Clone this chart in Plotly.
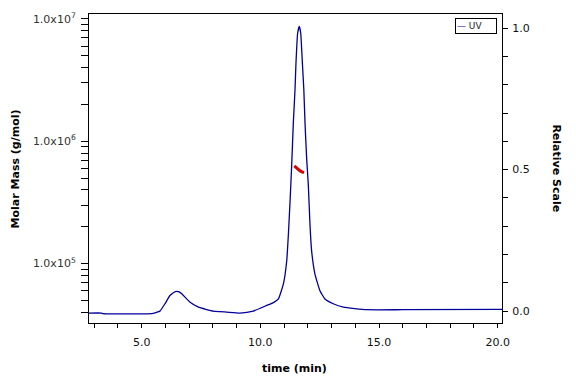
import plotly.graph_objects as go

# UV trace (relative scale, right axis)
time_uv = [2.78, 3.31, 3.37, 5.42, 5.6, 5.77, 5.98, 6.19, 6.35, 6.47, 6.58, 6.69, 7.04, 7.39,
           8.02, 8.58, 9.14, 9.70, 10.27, 10.55, 10.76, 10.97, 11.11, 11.18, 11.25, 11.32,
           11.39, 11.46, 11.50, 11.57, 11.64, 11.70, 11.77, 11.83, 11.88, 11.95, 12.02,
           12.09, 12.16, 12.30, 12.51, 12.72, 13.07, 13.5, 14.48, 16.0, 20.18]
uv = [-0.007, -0.007, -0.009, -0.009, -0.005, 0.0, 0.026, 0.055, 0.066, 0.070, 0.068, 0.061,
      0.031, 0.014, 0.0, -0.0035, -0.007, 0.0, 0.02, 0.03, 0.043, 0.096, 0.177, 0.271, 0.387,
      0.517, 0.667, 0.784, 0.877, 0.982, 1.006, 0.982, 0.877, 0.784, 0.667, 0.539, 0.446,
      0.306, 0.212, 0.131, 0.072, 0.043, 0.026, 0.014, 0.005, 0.005, 0.006]

# Molar mass (left log axis)
time_mm = [11.43, 11.50, 11.58, 11.66, 11.75, 11.84]
molar_mass = [6.28e5, 6.1e5, 5.9e5, 5.75e5, 5.62e5, 5.54e5]

x_ticks = [5, 10, 15, 20]
x_labels = ["5.0", "10.0", "15.0", "20.0"]
mm_decades = [5, 6, 7]
rs_labels = {0: "0.0", 5: "0.5", 10: "1.0"}

navy = "#000099"
font_fam = "DejaVu Sans"

fig = go.Figure()
fig.add_trace(go.Scatter(x=time_uv, y=uv, mode="lines", yaxis="y2", name="UV",
                         line=dict(color=navy, width=1.3, shape="spline", smoothing=0.4),
                         showlegend=False))
fig.add_trace(go.Scatter(x=time_mm, y=molar_mass, mode="lines", yaxis="y", name="Molar Mass",
                         line=dict(color="#dd0000", width=3), showlegend=False))

# log axis ticks
lv, lt = [], []
for e in range(4, 8):
    for m in range(1, 10):
        lv.append(m * 10 ** e)
        lt.append(f"1.0x10<sup>{e}</sup>" if (m == 1 and e in mm_decades) else "")

rv = [i / 10 for i in range(0, 11)]
rt = [rs_labels.get(i, "") for i in range(0, 11)]

fig.update_layout(
    width=576, height=384,
    margin=dict(l=89, r=74, t=11, b=61),
    paper_bgcolor="white", plot_bgcolor="white",
    font=dict(family=font_fam, size=11, color="#111"),
    xaxis=dict(range=[2.78, 20.18], tickmode="array", tickvals=x_ticks, ticktext=x_labels,
               ticks="outside", ticklen=4, tickcolor="black", showline=True, linecolor="black",
               linewidth=1, mirror=True, showgrid=False, zeroline=False, ticklabelstandoff=5,
               minor=dict(dtick=1, tick0=0, ticks="outside", ticklen=4, tickcolor="black",
                          showgrid=False)),
    yaxis=dict(type="log", range=[4.514, 7.0405], tickmode="array", tickvals=lv, ticktext=lt,
               ticks="outside", ticklen=7, tickcolor="black", showline=True, linecolor="black",
               linewidth=1, showgrid=False, zeroline=False, ticklabelstandoff=3,
               tickfont=dict(color="#333")),
    yaxis2=dict(range=[-0.042, 1.05], overlaying="y", side="right", tickmode="array",
                tickvals=rv, ticktext=rt, ticks="outside", ticklen=5, tickcolor="black",
                showline=True, linecolor="black", linewidth=1, showgrid=False, zeroline=False,
                ticklabelstandoff=2),
    annotations=[
        dict(text="<b>Molar Mass (g/mol)</b>", xref="paper", yref="paper", x=-0.177, y=0.5,
             xanchor="center", yanchor="middle", textangle=-90, showarrow=False,
             font=dict(size=11, color="black")),
        dict(text="<b>Relative Scale</b>", xref="paper", yref="paper", x=1.131, y=0.5,
             xanchor="center", yanchor="middle", textangle=90, showarrow=False,
             font=dict(size=11, color="black")),
        dict(text="<b>time (min)</b>", xref="paper", yref="paper", x=0.4976, y=-0.146,
             xanchor="center", yanchor="middle", showarrow=False,
             font=dict(size=11, color="black")),
        dict(text=f"<span style='color:{navy}'>—</span> UV", xref="paper",
             yref="paper", x=0.988, y=0.987, xanchor="right", yanchor="top", showarrow=False,
             width=38, height=12, align="left", bordercolor="black", borderwidth=1,
             borderpad=1, bgcolor="white", font=dict(size=9, color="#222")),
    ],
)

fig.write_html("out.html")
